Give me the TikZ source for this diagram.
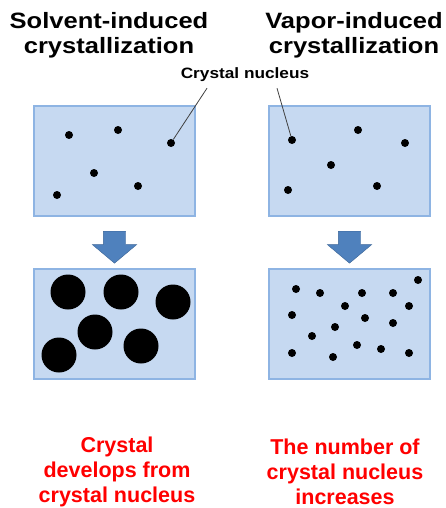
\documentclass[tikz,border=0pt]{standalone}
\usepackage{fontspec}
\setmainfont{Liberation Sans}
\newfontfamily\widesans[FakeStretch=1.15]{Liberation Sans}
\usetikzlibrary{shapes.arrows,positioning,calc}
\definecolor{boxfill}{HTML}{C6D9F1}
\definecolor{boxline}{HTML}{8EB4E3}
\definecolor{arrfill}{HTML}{4F81BD}
\definecolor{arrline}{HTML}{3A6496}
\definecolor{outred}{HTML}{FF0000}

\begin{document}
\begin{tikzpicture}[x=1pt,y=-1pt,every node/.style={inner sep=0pt},
  title/.style={font=\widesans\bfseries\fontsize{22.2}{25}\selectfont,align=center},
  result/.style={font=\bfseries\fontsize{21.5}{25}\selectfont,text=outred,align=center},
  vial/.style={draw=boxline,line width=2pt,fill=boxfill,minimum width=161pt,minimum height=110pt},
  down/.style={single arrow,draw=arrline,fill=arrfill,rotate=-90,minimum height=32pt,
    inner xsep=0pt,inner ysep=11pt,minimum width=44pt,single arrow head extend=11pt,
    single arrow tip angle=100},
  seed/.style={circle,fill=black,minimum size=8pt},
  grain/.style={circle,fill=black,minimum size=35pt},
  lead/.style={draw=black!75,line width=0.8pt}]
  \useasboundingbox (0,0) rectangle (445,508);
  % headings
  \node[title] (hl) at (109,35) {Solvent-induced\\crystallization};
  \node[title] (hr) at (354,35) {Vapor-induced\\crystallization};
  \node[font=\widesans\bfseries\fontsize{15}{17}\selectfont] (nuc) at (245,75) {Crystal nucleus};
  % vials before
  \node[vial] (tl) at (114.5,161) {};
  \node[vial] (tr) at (349.5,161) {};
  \node[vial,below=51pt of tl] (bl) {};
  \node[vial,below=51pt of tr] (br) {};
  \node[down] (al) at ($(tl.south)!.5!(bl.north)$) {};
  \node[down] (ar) at ($(tr.south)!.5!(br.north)$) {};
  % nuclei
  \foreach \p [count=\i] in {(69,135),(118,130),(171,143),(94,173),(138,186),(57,195)}
    \node[seed] (sl\i) at \p {};
  \foreach \p [count=\i] in {(292,140),(358,130),(405,143),(331,165),(377,186),(288,190)}
    \node[seed] (sr\i) at \p {};
  \draw[lead] ([xshift=-38pt,yshift=-6pt]nuc.south) -- (sl3);
  \draw[lead] ([xshift=32pt,yshift=-6pt]nuc.south) -- (sr1);
  % grown crystals / many nuclei
  \foreach \p [count=\i] in {(68,292),(121,292),(173,302),(95,332),(141,346),(59,355)}
    \node[grain] (gl\i) at \p {};
  \foreach \p [count=\i] in {(296,289),(320,293),(362,293),(393,293),(418,280),(292,315),
      (345,306),(409,306),(365,318),(393,323),(335,327),(312,336),(292,353),(333,357),
      (357,345),(381,349),(409,353)}
    \node[seed] (gr\i) at \p {};
  % outcomes
  \node[result] (ol) at (117,471.5) {Crystal\\develops from\\crystal nucleus};
  \node[result] (or) at (345,471.5) {The number of\\crystal nucleus\\increases};
\end{tikzpicture}
\end{document}
